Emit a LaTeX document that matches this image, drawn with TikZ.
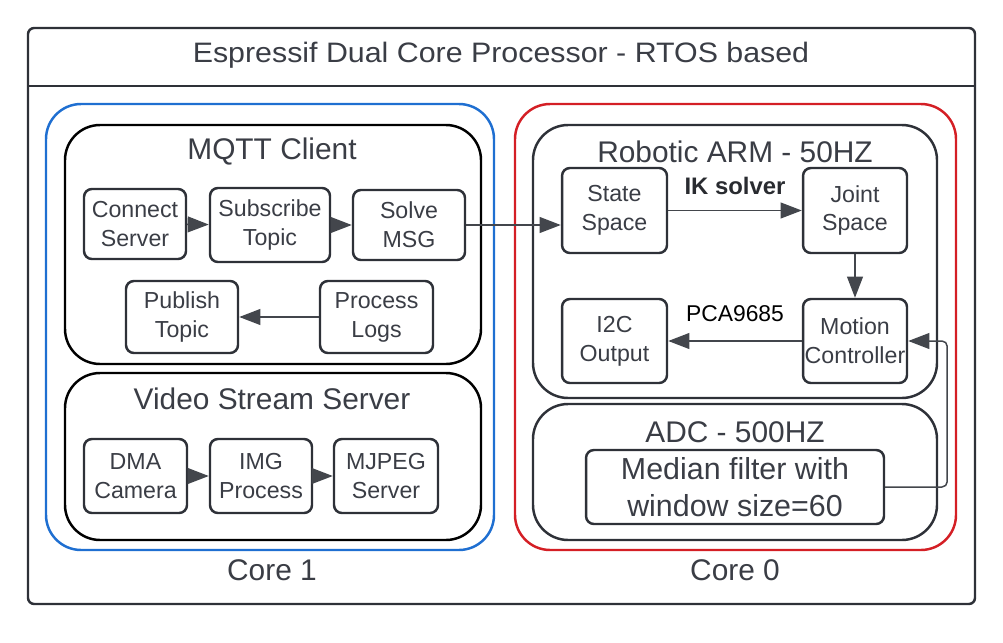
\documentclass[tikz,border=0pt]{standalone}
\usepackage{fontspec}
\setmainfont{Liberation Sans}
\usetikzlibrary{arrows.meta}
\definecolor{boxgray}{HTML}{2E3138}
\definecolor{txtgray}{HTML}{3A3D45}
\definecolor{coreblue}{HTML}{1F6FD1}
\definecolor{corered}{HTML}{D41F25}

\tikzset{
    blk/.style={draw=boxgray, line width=1.4pt, rounded corners=4.5pt, align=center,
        inner sep=0pt, text=txtgray, font=\fontsize{13.2}{16.5}\selectfont},
    grp/.style={line width=1.4pt, rounded corners=20pt},
    head/.style={text=txtgray, font=\fontsize{17}{20}\selectfont},
    arr/.style={->, draw=boxgray!90, line width=0.85pt},
}

\begin{document}
\begin{tikzpicture}[x=0.02cm, y=-0.02cm, >={Triangle[length=12pt, width=9pt]}]

    \useasboundingbox (0,0) rectangle (1003,642);

    % outer processor frame with its title strip:

    \draw[boxgray, line width=1.4pt, rounded corners=3.5pt] (28,28) rectangle (975,604);
    \draw[boxgray, line width=1.4pt] (28,86) -- (975,86);
    \node (title) at (501,55) {\color{txtgray}\fontsize{16}{19}\selectfont\scalebox{1.08}[1]{Espressif Dual Core Processor - RTOS based}};

    % the two cores

    \draw[grp, coreblue] (46,104) rectangle (494,550);
    \draw[grp, corered] (515,104) rectangle (956,550);
    \node[head] (core1) at (272,570) {Core 1};
    \node[head] (core0) at (735,570) {Core 0};

    % Core 1: MQTT client and video stream server

    \draw[grp, black] (65,125) rectangle (481,364);
    \node[head] (mqtt) at (272,152) {MQTT Client};
    \draw[grp, black] (65,373) rectangle (481,540);
    \node[head] (video) at (272,399) {Video Stream Server};

    \node[blk, minimum width=2.04cm, minimum height=1.40cm] (conn) at (135,224) {Connect\\Server};
    \node[blk, minimum width=2.40cm, minimum height=1.48cm] (subs) at (270,225) {Subscribe\\Topic};
    \node[blk, minimum width=2.24cm, minimum height=1.40cm] (solve) at (409,225) {Solve\\MSG};
    \node[blk, minimum width=2.24cm, minimum height=1.44cm] (pub) at (182,317) {Publish\\Topic};
    \node[blk, minimum width=2.26cm, minimum height=1.44cm] (proc) at (376.5,317) {Process\\Logs};

    \node[blk, minimum width=2.06cm, minimum height=1.48cm] (dma) at (135.5,476) {DMA\\Camera};
    \node[blk, minimum width=2.04cm, minimum height=1.48cm] (imgp) at (261,476) {IMG\\Process};
    \node[blk, minimum width=2.08cm, minimum height=1.48cm] (mjpeg) at (386,476) {MJPEG\\Server};

    \draw[arr] (conn) -- (subs);
    \draw[arr] (subs) -- (solve);
    \draw[arr] (proc) -- (pub);
    \draw[arr] (dma) -- (imgp);
    \draw[arr] (imgp) -- (mjpeg);

    % Core 0: robotic arm and ADC

    \draw[grp, boxgray] (533,125) rectangle (937,398);
    \node[head] (arm) at (735,152) {Robotic ARM - 50HZ};
    \draw[grp, boxgray] (533,404) rectangle (937,540);
    \node[head] (adc) at (735,432) {ADC - 500HZ};

    \node[blk, minimum width=2.10cm, minimum height=1.70cm] (state) at (614.5,210.5) {State\\Space};
    \node[blk, minimum width=2.08cm, minimum height=1.70cm] (joint) at (855,210.5) {Joint\\Space};
    \node[blk, minimum width=2.10cm, minimum height=1.68cm] (i2c) at (614.5,341) {I2C\\Output};
    \node[blk, minimum width=2.08cm, minimum height=1.68cm] (motion) at (855,341) {Motion\\Controller};
    \node[blk, minimum width=5.96cm, minimum height=1.48cm,
        font=\fontsize{17.3}{21}\selectfont] (median) at (735,487) {Median filter with\\window size=60};

    \draw[arr] (state) -- (joint) node[midway, above=5pt, text=txtgray!70!black,
        font=\bfseries\fontsize{13.6}{16}\selectfont] {IK solver};
    \draw[arr] (joint) -- (motion);
    \draw[arr] (motion) -- (i2c) node[midway, above=7pt, text=black,
        font=\fontsize{13}{16}\selectfont] {PCA9685};

    % links across the cores

    \draw[arr] (solve.east) -- (solve.east -| state.west);
    \draw[arr, rounded corners=3pt] (median.east) -- ++(62,0) |- (motion.east);
%
\end{tikzpicture}
\end{document}
